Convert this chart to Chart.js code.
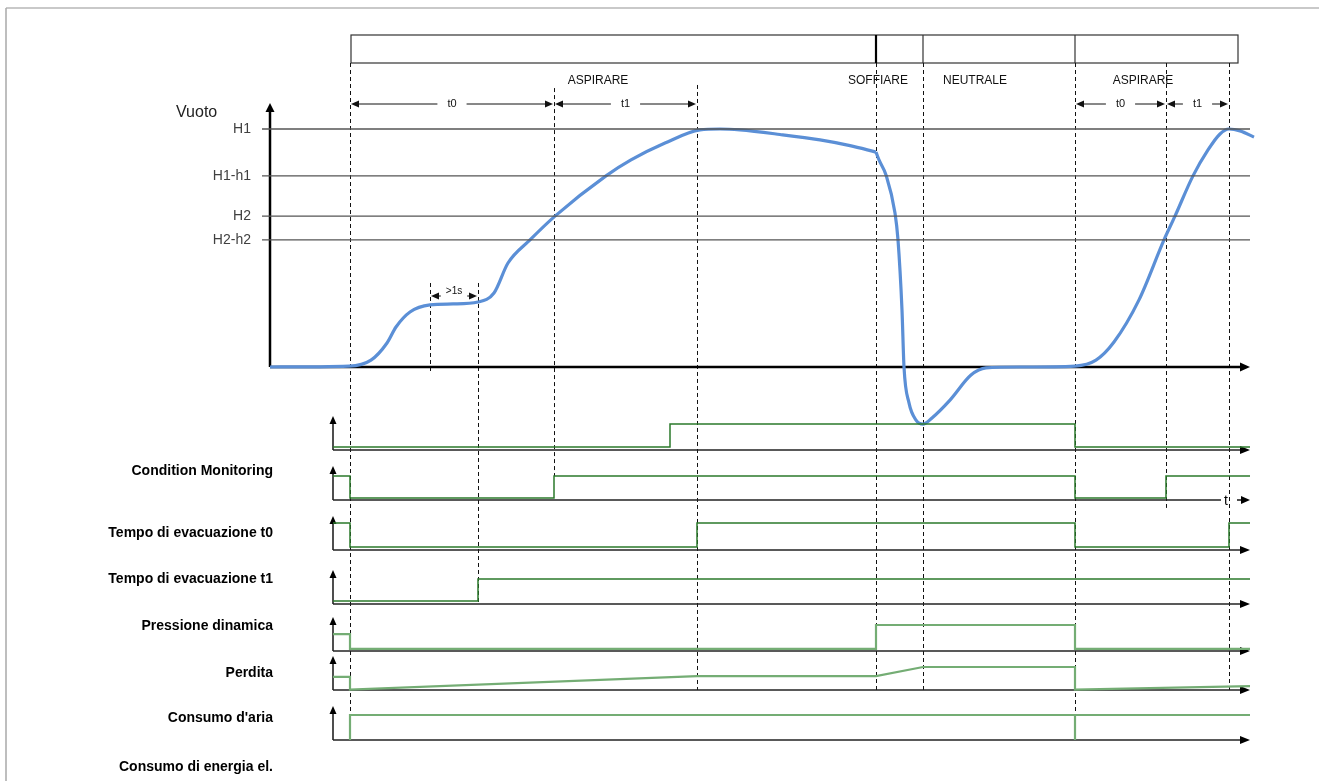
<!DOCTYPE html>
<html>
<head>
<meta charset="utf-8">
<title>Vuoto - diagramma temporale</title>
<script src="https://cdn.jsdelivr.net/npm/chart.js@4.4.1/dist/chart.umd.min.js"></script>
<style>
  html, body { margin: 0; padding: 0; background: #fff; }
</style>
</head>
<body>
<canvas id="myChart" width="1319" height="781"></canvas>
<script>
// Vacuum curve (time in arbitrary units, vacuum in % of H1)
const vacuumTime = [0, 7.9, 10.1, 11.7, 12.6, 14.0, 16.0, 18.3, 20.8, 22.4, 23.8, 26.0, 28.5, 33.6, 36.1, 39.5,
  43.0, 45.0, 47.0, 51.0, 55.0, 58.0, 60.6, 60.9, 61.6, 62.5, 62.8, 63.2, 63.4, 63.9, 64.6, 65.3, 66.2, 68.0,
  70.1, 71.6, 75.1, 80.5, 82.6, 84.4, 86.9, 89.4, 90.5, 92.3, 93.8, 95.0, 95.9, 97.0, 98.4];
const vacuumValue = [0, 0.4, 2.9, 10.1, 16.8, 23.1, 26.1, 26.5, 27.3, 31.1, 43.7, 53.4, 63.4, 80.3, 87.0, 94.1,
  99.6, 100, 99.6, 97.7, 95.4, 93.0, 90.3, 87.0, 80.7, 64.7, 53.4, 23.9, 0, -15.1, -22.3, -24.0, -21.4, -13.9,
  -3.4, -0.4, 0, 0.4, 2.9, 10.5, 28.2, 53.4, 63.4, 80.3, 91.2, 97.9, 100, 99.2, 96.6];
// blowing starts here: the curve has a corner
const blowStart = 60.6;

// Thresholds
const thresholdNames = ["H1", "H1-h1", "H2", "H2-h2"];
const thresholdValues = [100, 80.3, 63.4, 53.4];

// Phases (top bar)
const phaseNames = ["ASPIRARE", "SOFFIARE", "NEUTRALE", "ASPIRARE"];
const phaseStart = [8, 60.6, 65.3, 80.5];
const phaseEnd = 96.8;
const phaseLabelAt = [32.8, 60.8, 70.5, 87.3];

// Timing marks t0 / t1 / >1s
const spanLabels = ["t0", "t1", "t0", "t1", ">1s"];
const spanFrom = [8, 28.4, 80.5, 89.6, 16.0];
const spanTo = [28.4, 42.7, 89.6, 95.9, 20.8];

// Digital signals (level 0..1)
const signalATime = [6.3, 40, 40, 80.5, 80.5, 98];
const signalALevel = [0.12, 0.12, 1, 1, 0.12, 0.12];
const signalBTime = [6.3, 8, 8, 28.4, 28.4, 80.5, 80.5, 89.6, 89.6, 98];
const signalBLevel = [1, 1, 0.08, 0.08, 1, 1, 0.08, 0.08, 1, 1];
const signalCTime = [6.3, 8, 8, 42.7, 42.7, 80.5, 80.5, 95.9, 95.9, 98];
const signalCLevel = [1, 1, 0.11, 0.11, 1, 1, 0.11, 0.11, 1, 1];
const signalDTime = [6.3, 20.8, 20.8, 98];
const signalDLevel = [0.12, 0.12, 1, 1];
const signalETime = [6.3, 8, 8, 60.6, 60.6, 80.5, 80.5, 98];
const signalELevel = [0.65, 0.65, 0.08, 0.08, 1, 1, 0.08, 0.08];
const signalFTime = [6.3, 8, 8, 42.7, 60.6, 65.3, 80.5, 80.5, 98];
const signalFLevel = [0.57, 0.57, 0.02, 0.6, 0.6, 1, 1, 0.02, 0.17];
const signalGTime = [8, 8, 80.5, 80.5, 80.5, 98];
const signalGLevel = [0, 1, 1, 0, 1, 1];

const laneLabels = ["Condition Monitoring", "Tempo di evacuazione t0", "Tempo di evacuazione t1",
  "Pressione dinamica", "Perdita", "Consumo d'aria", "Consumo di energia el."];
const laneLabelY = [471, 533, 579, 626, 673, 718, 767];

// ---- layout (pixels) ----
const W = 1319, H = 781;
const axisLeftPx = 270, pxPerTime = 10;
const zeroPx = 367, pxPerVac = 2.38;
const laneStartT = 6.3, axisEndT = 98;
// baseline / high pixel for each lane
const lanes = [
  { id: "laneA", base: 450, high: 424, time: signalATime, level: signalALevel, dark: true },
  { id: "laneB", base: 500, high: 476, time: signalBTime, level: signalBLevel, dark: true },
  { id: "laneC", base: 550, high: 523, time: signalCTime, level: signalCLevel, dark: true },
  { id: "laneD", base: 604, high: 579, time: signalDTime, level: signalDLevel, dark: true },
  { id: "laneE", base: 651, high: 625, time: signalETime, level: signalELevel, dark: false },
  { id: "laneF", base: 690, high: 667, time: signalFTime, level: signalFLevel, dark: false },
  { id: "laneG", base: 740, high: 715, time: signalGTime, level: signalGLevel, dark: false },
];

// dashed markers: time, top [scale, value], bottom [scale, value]
const markers = [
  { t: 8, top: ["bar"], bottom: ["laneG", 0] },
  { t: 16.0, top: ["y", 35.3], bottom: ["y", -2.5] },
  { t: 20.8, top: ["y", 35.3], bottom: ["laneD", 0] },
  { t: 28.4, top: ["y", 117.2], bottom: ["laneB", 1] },
  { t: 42.7, top: ["y", 118.5], bottom: ["laneF", 0] },
  { t: 60.6, top: ["bar"], bottom: ["laneF", 0] },
  { t: 65.3, top: ["bar"], bottom: ["laneF", 0] },
  { t: 80.5, top: ["bar"], bottom: ["laneG", 0] },
  { t: 89.6, top: ["bar"], bottom: ["laneB", -0.33] },
  { t: 95.9, top: ["bar"], bottom: ["laneF", 0] },
];
const barTop = 35, barBottom = 63;

const FONT = "'Liberation Sans', Arial, sans-serif";

function toPoints(xs, ys) {
  return xs.map((x, i) => ({ x: x, y: ys[i] }));
}

const datasets = [];
thresholdValues.forEach((v) => {
  datasets.push({
    data: [{ x: -0.8, y: v }, { x: axisEndT, y: v }],
    yAxisID: "y", borderColor: "#555", borderWidth: 1.3, pointRadius: 0, tension: 0,
  });
});
lanes.forEach((ln) => {
  datasets.push({
    data: toPoints(ln.time, ln.level),
    yAxisID: ln.id,
    borderColor: ln.dark ? "#2b7a2b" : "#74ad74",
    borderWidth: ln.dark ? 1.5 : 2.2,
    pointRadius: 0, tension: 0,
  });
});
// vacuum curve in two pieces so the start of blowing stays a corner
const vacuumPoints = toPoints(vacuumTime, vacuumValue);
const vacuumPieces = [
  vacuumPoints.filter((p) => p.x <= blowStart),
  vacuumPoints.filter((p) => p.x >= blowStart),
];
vacuumPieces.forEach((piece) => {
  datasets.push({
    data: piece,
    yAxisID: "y", borderColor: "#5b8fd6", borderWidth: 3.2, pointRadius: 0,
    cubicInterpolationMode: "monotone",
  });
});

const scales = {
  x: { type: "linear", display: false, min: -axisLeftPx / pxPerTime, max: (W - axisLeftPx) / pxPerTime },
  y: { type: "linear", display: false, min: -(H - zeroPx) / pxPerVac, max: zeroPx / pxPerVac },
};
lanes.forEach((ln) => {
  const amp = ln.base - ln.high;
  scales[ln.id] = { type: "linear", display: false, min: -(H - ln.base) / amp, max: ln.base / amp };
});

function head(ctx, x, y, dir, len, half) {
  len = len || 9; half = half || 4;
  ctx.beginPath();
  if (dir === "r") { ctx.moveTo(x, y); ctx.lineTo(x - len, y - half); ctx.lineTo(x - len, y + half); }
  if (dir === "l") { ctx.moveTo(x, y); ctx.lineTo(x + len, y - half); ctx.lineTo(x + len, y + half); }
  if (dir === "u") { ctx.moveTo(x, y); ctx.lineTo(x - half, y + len); ctx.lineTo(x + half, y + len); }
  ctx.closePath();
  ctx.fill();
}

function line(ctx, x1, y1, x2, y2) {
  ctx.beginPath(); ctx.moveTo(x1, y1); ctx.lineTo(x2, y2); ctx.stroke();
}

const decor = {
  id: "decor",
  beforeDatasetsDraw(chart) {
    const { ctx, scales: s } = chart;
    const X = (t) => s.x.getPixelForValue(t);
    const Y = (ref) => (ref[0] === "bar" ? barBottom : s[ref[0]].getPixelForValue(ref[1]));
    ctx.save();

    // frame
    ctx.strokeStyle = "#c9c9c9"; ctx.lineWidth = 2;
    line(ctx, 6, 8, W, 8);
    ctx.strokeStyle = "#a9a9a9"; ctx.lineWidth = 1.5;
    line(ctx, 6, 8, 6, H);

    // top bar
    ctx.strokeStyle = "#333"; ctx.lineWidth = 1.2;
    ctx.strokeRect(X(phaseStart[0]) + 1, barTop, X(phaseEnd) - X(phaseStart[0]) - 1, barBottom - barTop);
    phaseStart.slice(1).forEach((t, i) => {
      ctx.lineWidth = i === 0 ? 2.2 : 1.2;
      ctx.strokeStyle = i === 0 ? "#000" : "#333";
      line(ctx, X(t), barTop, X(t), barBottom);
    });

    // dashed markers
    ctx.strokeStyle = "#111"; ctx.lineWidth = 1; ctx.setLineDash([4, 3]);
    markers.forEach((m) => {
      const mx = Math.round(X(m.t)) + 0.5;
      line(ctx, mx, Y(m.top), mx, Y(m.bottom));
    });
    ctx.setLineDash([]);

    // main axes
    ctx.strokeStyle = "#000"; ctx.fillStyle = "#000"; ctx.lineWidth = 2.5;
    const x0 = X(0), y0 = s.y.getPixelForValue(0);
    line(ctx, x0, y0, X(axisEndT) - 6, y0);
    head(ctx, X(axisEndT), y0, "r", 10, 4.5);
    line(ctx, x0, y0, x0, 110);
    head(ctx, x0, 103, "u", 9, 4.5);

    // lane axes
    ctx.lineWidth = 1.6; ctx.strokeStyle = "#222";
    lanes.forEach((ln, i) => {
      const lx = X(laneStartT), by = s[ln.id].getPixelForValue(0);
      line(ctx, lx, by, lx, by - 28);
      head(ctx, lx, by - 34, "u", 8, 3.5);
      if (i === 1) {
        line(ctx, lx, by, 1221, by);
        ctx.font = "14px " + FONT; ctx.textAlign = "center"; ctx.textBaseline = "middle";
        ctx.fillText("t", 1226, by + 1);
        line(ctx, 1237, by, 1243, by);
        head(ctx, X(axisEndT), by, "r", 9, 4);
      } else {
        line(ctx, lx, by, X(axisEndT) - 6, by);
        head(ctx, X(axisEndT), by, "r", 10, 4);
      }
    });
    ctx.restore();
  },
  afterDatasetsDraw(chart) {
    const { ctx, scales: s } = chart;
    const X = (t) => s.x.getPixelForValue(t);
    ctx.save();
    ctx.fillStyle = "#111"; ctx.strokeStyle = "#111";
    ctx.textBaseline = "middle";

    // phase names
    ctx.font = "12px " + FONT; ctx.textAlign = "center";
    phaseNames.forEach((n, i) => ctx.fillText(n, X(phaseLabelAt[i]), 81));

    // spans with arrows
    spanLabels.forEach((lab, i) => {
      const small = lab === ">1s";
      const yy = small ? 296 : 104;
      ctx.font = (small ? "10px " : "11px ") + FONT;
      const a = X(spanFrom[i]), b = X(spanTo[i]), mid = (a + b) / 2;
      const gap = ctx.measureText(lab).width / 2 + (small ? 5 : 10);
      ctx.lineWidth = 1;
      line(ctx, a + 4, yy, mid - gap, yy);
      line(ctx, mid + gap, yy, b - 4, yy);
      head(ctx, a + 1, yy, "l", 8, 3.5);
      head(ctx, b - 1, yy, "r", 8, 3.5);
      ctx.fillText(lab, mid, small ? yy - 5 : yy);
    });

    // threshold labels
    ctx.font = "14px " + FONT; ctx.textAlign = "right"; ctx.fillStyle = "#404040";
    thresholdValues.forEach((v, i) => ctx.fillText(thresholdNames[i], 251, s.y.getPixelForValue(v)));
    ctx.textAlign = "left"; ctx.fillStyle = "#222";
    ctx.font = "16px " + FONT;
    ctx.fillText("Vuoto", 176, 113);

    // lane labels
    ctx.font = "bold 14px " + FONT; ctx.textAlign = "right"; ctx.fillStyle = "#000";
    laneLabels.forEach((lab, i) => ctx.fillText(lab, 273, laneLabelY[i]));
    ctx.restore();
  },
};

const ctx = document.getElementById("myChart");
new Chart(ctx, {
  type: "line",
  data: { datasets: datasets },
  options: {
    responsive: false,
    animation: false,
    layout: { padding: 0 },
    scales: scales,
    plugins: { legend: { display: false }, tooltip: { enabled: false } },
    elements: { point: { radius: 0 } },
  },
  plugins: [decor],
});
</script>
</body>
</html>
